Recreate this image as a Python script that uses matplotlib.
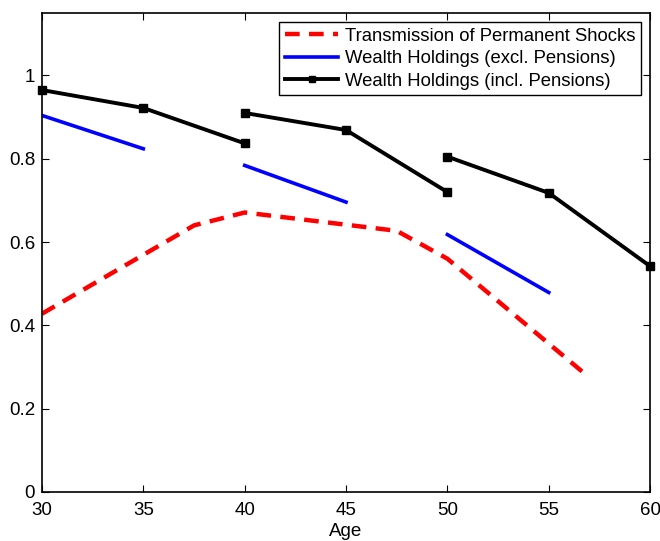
import matplotlib
matplotlib.use("Agg")
import matplotlib.pyplot as plt

plt.rcParams['font.family'] = ['Liberation Sans', 'DejaVu Sans']

# transmission of permanent shocks (dashed red)
trans_age = [30, 37.5, 40, 47.5, 50, 56.7]
trans_val = [0.428, 0.640, 0.671, 0.627, 0.560, 0.287]

# wealth holdings excl. pensions, one segment per cohort block
excl_age = [[30, 35], [40, 45], [50, 55]]
excl_val = [[0.904, 0.824], [0.784, 0.696], [0.618, 0.479]]

# wealth holdings incl. pensions
incl_age = [[30, 35, 40], [40, 45, 50], [50, 55, 60]]
incl_val = [[0.965, 0.922, 0.837], [0.910, 0.869, 0.720], [0.805, 0.718, 0.542]]

xticks = [30, 35, 40, 45, 50, 55, 60]
yticks = [0, 0.2, 0.4, 0.6, 0.8, 1]
yticklabels = ['0', '0.2', '0.4', '0.6', '0.8', '1']

fig = plt.figure(figsize=(6.6, 5.41), dpi=100)
ax = fig.add_axes([0.0636, 0.0906, 0.9214, 0.8854])

ax.plot(trans_age, trans_val, color='red', lw=3.2, dashes=(3.3, 2.1),
        label='Transmission of Permanent Shocks')
for i, (a, v) in enumerate(zip(excl_age, excl_val)):
    ax.plot(a, v, color='blue', lw=2.6,
            label='Wealth Holdings (excl. Pensions)' if i == 0 else None)
for i, (a, v) in enumerate(zip(incl_age, incl_val)):
    ax.plot(a, v, color='black', lw=2.8, marker='s', ms=5.5, clip_on=False,
            label='Wealth Holdings (incl. Pensions)' if i == 0 else None)

ax.set_xlim(30, 60)
ax.set_ylim(0, 1.15)
ax.set_xticks(xticks)
ax.set_yticks(yticks)
ax.set_yticklabels(yticklabels)
ax.tick_params(direction='in', top=True, right=True, labelsize=13.5, length=5)
ax.tick_params(axis='x', pad=7)
ax.tick_params(axis='y', pad=5)
for s in ax.spines.values():
    s.set_linewidth(1.2)
ax.set_xlabel('Age', fontsize=13.5, labelpad=3)

leg = ax.legend(loc='upper right', fontsize=13.3, fancybox=False, edgecolor='black',
                framealpha=1, handlelength=2.9, labelspacing=0.3, borderpad=0.3,
                handletextpad=0.35, borderaxespad=0.5, numpoints=1, markerscale=0.85)
leg.get_frame().set_linewidth(1.0)

fig.savefig('out.png', dpi=100)
